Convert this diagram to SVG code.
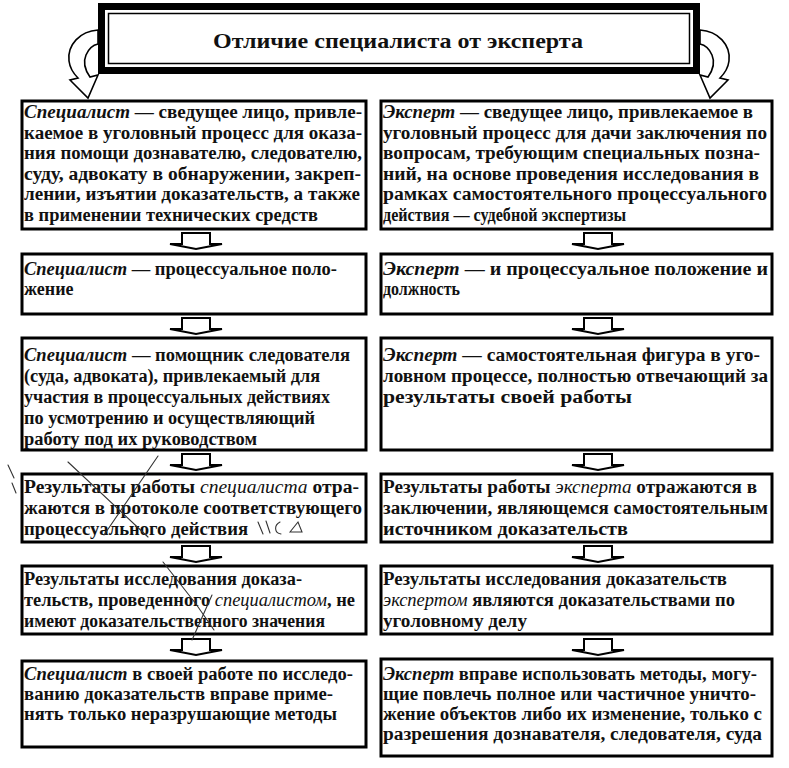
<svg xmlns="http://www.w3.org/2000/svg" width="789" height="768" viewBox="0 0 789 768">
<style>
  .bx{fill:#fff;stroke:#000;stroke-width:3}
  .t{font-family:"Liberation Serif","Times New Roman",serif;font-size:18px;font-weight:bold;fill:#111}
  .i{font-style:italic}
  .in{font-style:italic;font-weight:normal}
  .ttl{font-family:"Liberation Serif","Times New Roman",serif;font-size:22px;font-weight:bold;fill:#111}
  .arr{fill:#fff;stroke:#000;stroke-width:2;stroke-linejoin:miter}
  .curl{fill:#fff;stroke:#000;stroke-width:1.6}
  .pen{fill:none;stroke:#333;stroke-width:1.1;stroke-linecap:round}
</style>
<defs>
  <path id="dn" class="arr" d="M-14,0 L14,0 L14,11 L26,11 L0,16 L-26,11 L-14,11 Z"/>
</defs>
<rect width="789" height="768" fill="#fff"/>

<g id="title">
  <path id="curl-left" class="curl" d="M98,30 C80,31 67,45 69,61 C70,69 74,74 78,78 L70,80 L88,98 L98,75 L90,77 C85,70 83,62 86,55 C89,48 93,45 98,44 Z"/>
  <path id="curl-right" class="curl" transform="translate(798,0) scale(-1,1)" d="M98,30 C80,31 67,45 69,61 C70,69 74,74 78,78 L70,80 L88,98 L98,75 L90,77 C85,70 83,62 86,55 C89,48 93,45 98,44 Z"/>
  <rect x="101.5" y="6.5" width="595" height="64" fill="#fff" stroke="#000" stroke-width="7"/>
  <rect x="108.5" y="13.5" width="581" height="50" fill="none" stroke="#000" stroke-width="1.5"/>
  <text class="ttl" x="398" y="48" text-anchor="middle" textLength="370" lengthAdjust="spacingAndGlyphs">Отличие специалиста от эксперта</text>
</g>

<g id="connectors">
  <use href="#dn" x="196" y="233"/>
  <use href="#dn" x="598" y="233"/>
  <use href="#dn" x="196" y="318"/>
  <use href="#dn" x="598" y="318"/>
  <use href="#dn" x="196" y="454"/>
  <use href="#dn" x="598" y="454"/>
  <use href="#dn" x="196" y="546"/>
  <use href="#dn" x="598" y="546"/>
  <use href="#dn" x="196" y="639"/>
  <use href="#dn" x="598" y="639"/>
</g>

<g id="s1">
  <rect class="bx" x="22" y="101" width="344" height="128"/>
  <text class="t" x="24" y="118" textLength="338" lengthAdjust="spacingAndGlyphs"><tspan class="i">Специалист</tspan> — сведущее лицо, привле-</text>
  <text class="t" x="24" y="139" textLength="338" lengthAdjust="spacingAndGlyphs">каемое в уголовный процесс для оказа-</text>
  <text class="t" x="24" y="159" textLength="338" lengthAdjust="spacingAndGlyphs">ния помощи дознавателю, следователю,</text>
  <text class="t" x="24" y="180" textLength="337" lengthAdjust="spacingAndGlyphs">суду, адвокату в обнаружении, закреп-</text>
  <text class="t" x="24" y="200" textLength="336" lengthAdjust="spacingAndGlyphs">лении, изъятии доказательств, а также</text>
  <text class="t" x="24" y="221" textLength="294" lengthAdjust="spacingAndGlyphs">в применении технических средств</text>
</g>
<g id="e1">
  <rect class="bx" x="381" y="101" width="391" height="128"/>
  <text class="t" x="383" y="118" textLength="370" lengthAdjust="spacingAndGlyphs"><tspan class="i">Эксперт</tspan> — сведущее лицо, привлекаемое в</text>
  <text class="t" x="383" y="139" textLength="384" lengthAdjust="spacingAndGlyphs">уголовный процесс для дачи заключения по</text>
  <text class="t" x="383" y="159" textLength="377" lengthAdjust="spacingAndGlyphs">вопросам, требующим специальных позна-</text>
  <text class="t" x="383" y="180" textLength="376" lengthAdjust="spacingAndGlyphs">ний, на основе проведения исследования в</text>
  <text class="t" x="383" y="200" textLength="384" lengthAdjust="spacingAndGlyphs">рамках самостоятельного процессуального</text>
  <text class="t" x="383" y="221" textLength="243" lengthAdjust="spacingAndGlyphs">действия — судебной экспертизы</text>
</g>

<g id="s2">
  <rect class="bx" x="22" y="254" width="344" height="60"/>
  <text class="t" x="24" y="275" textLength="313" lengthAdjust="spacingAndGlyphs"><tspan class="i">Специалист</tspan> — процессуальное поло-</text>
  <text class="t" x="24" y="295">жение</text>
</g>
<g id="e2">
  <rect class="bx" x="381" y="254" width="391" height="60"/>
  <text class="t" x="383" y="275" textLength="385" lengthAdjust="spacingAndGlyphs"><tspan class="i">Эксперт</tspan> — и процессуальное положение и</text>
  <text class="t" x="383" y="295" textLength="77" lengthAdjust="spacingAndGlyphs">должность</text>
</g>

<g id="s3">
  <rect class="bx" x="22" y="338" width="344" height="112"/>
  <text class="t" x="24" y="361" textLength="326" lengthAdjust="spacingAndGlyphs"><tspan class="i">Специалист</tspan> — помощник следователя</text>
  <text class="t" x="24" y="382" textLength="296" lengthAdjust="spacingAndGlyphs">(суда, адвоката), привлекаемый для</text>
  <text class="t" x="24" y="403" textLength="306" lengthAdjust="spacingAndGlyphs">участия в процессуальных действиях</text>
  <text class="t" x="24" y="424" textLength="291" lengthAdjust="spacingAndGlyphs">по усмотрению и осуществляющий</text>
  <text class="t" x="24" y="445" textLength="233" lengthAdjust="spacingAndGlyphs">работу под их руководством</text>
</g>
<g id="e3">
  <rect class="bx" x="381" y="338" width="391" height="112"/>
  <text class="t" x="383" y="361" textLength="377" lengthAdjust="spacingAndGlyphs"><tspan class="i">Эксперт</tspan> — самостоятельная фигура в уго-</text>
  <text class="t" x="383" y="382" textLength="385" lengthAdjust="spacingAndGlyphs">ловном процессе, полностью отвечающий за</text>
  <text class="t" x="383" y="403" textLength="249" lengthAdjust="spacingAndGlyphs">результаты своей работы</text>
</g>

<g id="s4">
  <rect class="bx" x="22" y="474" width="344" height="68"/>
  <text class="t" x="24" y="493" textLength="335" lengthAdjust="spacingAndGlyphs">Результаты работы <tspan class="in">специалиста</tspan> отра-</text>
  <text class="t" x="24" y="514" textLength="338" lengthAdjust="spacingAndGlyphs">жаются в протоколе соответствующего</text>
  <text class="t" x="24" y="535" textLength="224" lengthAdjust="spacingAndGlyphs">процессуального действия</text>
</g>
<g id="e4">
  <rect class="bx" x="381" y="474" width="391" height="68"/>
  <text class="t" x="383" y="493" textLength="374" lengthAdjust="spacingAndGlyphs">Результаты работы <tspan class="in">эксперта</tspan> отражаются в</text>
  <text class="t" x="383" y="514" textLength="385" lengthAdjust="spacingAndGlyphs">заключении, являющемся самостоятельным</text>
  <text class="t" x="383" y="535" textLength="245" lengthAdjust="spacingAndGlyphs">источником доказательств</text>
</g>

<g id="s5">
  <rect class="bx" x="22" y="566" width="344" height="68"/>
  <text class="t" x="24" y="585" textLength="278" lengthAdjust="spacingAndGlyphs">Результаты исследования доказа-</text>
  <text class="t" x="24" y="606" textLength="331" lengthAdjust="spacingAndGlyphs">тельств, проведенного <tspan class="in">специалистом</tspan>, не</text>
  <text class="t" x="24" y="627" textLength="301" lengthAdjust="spacingAndGlyphs">имеют доказательственного значения</text>
</g>
<g id="e5">
  <rect class="bx" x="381" y="566" width="391" height="68"/>
  <text class="t" x="383" y="585" textLength="344" lengthAdjust="spacingAndGlyphs">Результаты исследования доказательств</text>
  <text class="t" x="383" y="606" textLength="352" lengthAdjust="spacingAndGlyphs"><tspan class="in">экспертом</tspan> являются доказательствами по</text>
  <text class="t" x="383" y="627" textLength="144" lengthAdjust="spacingAndGlyphs">уголовному делу</text>
</g>

<g id="s6">
  <rect class="bx" x="22" y="661" width="344" height="86"/>
  <text class="t" x="24" y="680" textLength="329" lengthAdjust="spacingAndGlyphs"><tspan class="i">Специалист</tspan> в своей работе по исследо-</text>
  <text class="t" x="24" y="700" textLength="309" lengthAdjust="spacingAndGlyphs">ванию доказательств вправе приме-</text>
  <text class="t" x="24" y="720" textLength="313" lengthAdjust="spacingAndGlyphs">нять только неразрушающие методы</text>
</g>
<g id="e6">
  <rect class="bx" x="381" y="659" width="391" height="97"/>
  <text class="t" x="383" y="680" textLength="374" lengthAdjust="spacingAndGlyphs"><tspan class="i">Эксперт</tspan> вправе использовать методы, могу-</text>
  <text class="t" x="383" y="700" textLength="373" lengthAdjust="spacingAndGlyphs">щие повлечь полное или частичное уничто-</text>
  <text class="t" x="383" y="720" textLength="379" lengthAdjust="spacingAndGlyphs">жение объектов либо их изменение, только с</text>
  <text class="t" x="383" y="740" textLength="379" lengthAdjust="spacingAndGlyphs">разрешения дознавателя, следователя, суда</text>
</g>

<g id="pen-marks">
  <path class="pen" d="M68,462 L148,537"/>
  <path class="pen" d="M158,456 L104,535"/>
  <path class="pen" d="M8,465 L14,478 M12,483 L16,493"/>
  <path class="pen" d="M258,522 L263,534 M266,521 L270,533 M280,522 C274,525 274,533 281,534 M290,532 L298,522 L302,532 Z"/>
  <path class="pen" d="M163,562 L196,604 L214,630"/>
  <path class="pen" d="M212,595 L192,640"/>
</g>
</svg>
